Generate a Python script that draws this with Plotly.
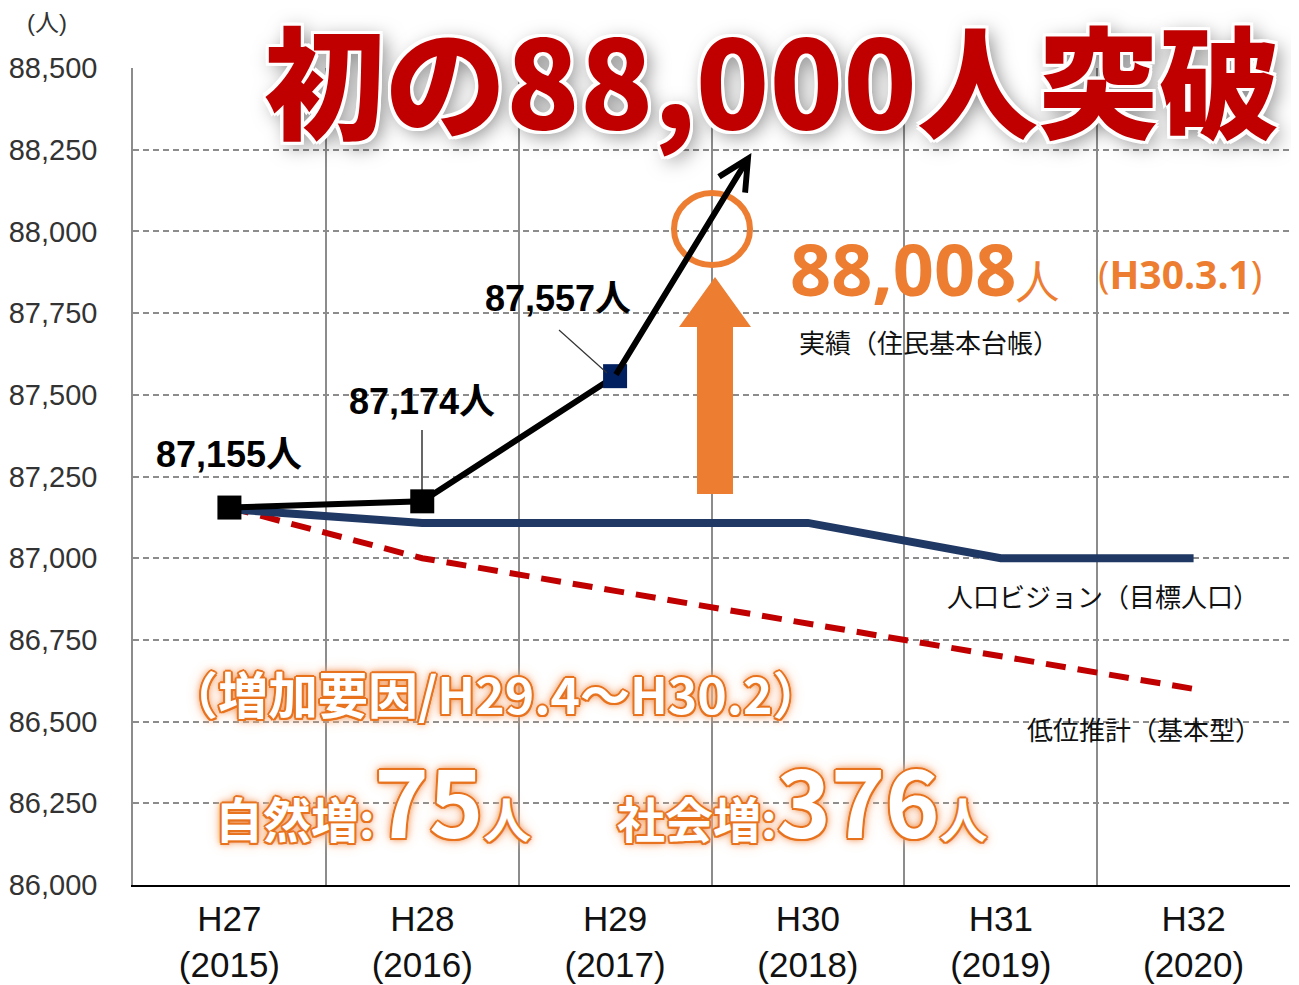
import plotly.graph_objects as go

# ---------------- data ----------------
categories = ["H27", "H28", "H29", "H30", "H31", "H32"]
years = ["(2015)", "(2016)", "(2017)", "(2018)", "(2019)", "(2020)"]
actual = [87155, 87174, 87557]                      # 実績（住民基本台帳）
vision = [87150, 87108, 87108, 87108, 87000, 87000]  # 人口ビジョン（目標人口）
low_est = [87155, 87000, 86900, 86800, 86700, 86600] # 低位推計（基本型）
actual_labels = ["87,155人", "87,174人", "87,557人"]
latest_value = 88008
y_ticks = [86000, 86250, 86500, 86750, 87000, 87250, 87500, 87750, 88000, 88250, 88500]

# ---------------- layout helpers ----------------
PAGE_W, PAGE_H = 1299, 985
OFF = 8                      # default page body margin
W, H = PAGE_W - OFF, PAGE_H - OFF
L, R, T, B = 133, 1290, 68, 885   # plot area in page pixels
def px(x):  # page pixel -> paper x
    return (x - L) / (R - L)
def py(y):  # page pixel -> paper y
    return (B - y) / (B - T)

SANS = "Liberation Sans, Arial, Noto Sans CJK JP, sans-serif"
CJK = "Noto Sans CJK JP, sans-serif"
ORANGE = "#ED7D31"

x_idx = list(range(len(categories)))

fig = go.Figure()

fig.add_trace(go.Scatter(
    x=x_idx, y=low_est, mode="lines",
    line=dict(color="#C00000", width=6, dash="20px,12px"),
    showlegend=False, hoverinfo="skip"))
fig.add_trace(go.Scatter(
    x=x_idx, y=vision, mode="lines",
    line=dict(color="#203864", width=8),
    showlegend=False, hoverinfo="skip"))
fig.add_trace(go.Scatter(
    x=x_idx[:len(actual)], y=actual, mode="lines+markers",
    line=dict(color="#000000", width=6),
    marker=dict(symbol="square", size=24, color=["#000000", "#000000", "#002060"],
                line=dict(width=0)),
    showlegend=False, hoverinfo="skip"))

def txt(x, y, text, font, xanchor="center", **kw):
    d = dict(x=x, y=y, xref="paper", yref="paper", text=text, showarrow=False,
             xanchor=xanchor, yanchor="middle", font=font)
    d.update(kw)
    return d

ann = []
# data labels
offsets = [(0, 53), (0, 100), (-57, 78)]
for i, (lab, (dx, dy)) in enumerate(zip(actual_labels, offsets)):
    ann.append(dict(x=x_idx[i], y=actual[i], xref="x", yref="y", text=lab,
                    showarrow=False, xshift=dx, yshift=dy, xanchor="center", yanchor="middle",
                    font=dict(family=SANS, size=36, color="#000", weight="bold")))

# trend arrow from H29 towards the latest value
ann.append(dict(x=2.707, y=88240, xref="x", yref="y",
                ax=x_idx[2], ay=actual[2], axref="x", ayref="y",
                showarrow=True, arrowhead=5, arrowsize=1.0, arrowwidth=6,
                arrowcolor="#000", text="", standoff=0, startstandoff=0))

# big title
ann.append(txt(px(772), py(76), "初の88,000人突破",
               dict(family=CJK, size=121, color="#C00000", weight=900,
                    shadow="-3px -3px 0 #fff, 3px -3px 0 #fff, -3px 3px 0 #fff, 3px 3px 0 #fff, 0 -3px 0 #fff, 0 3px 0 #fff, -3px 0 0 #fff, 3px 0 0 #fff, 5px 5px 20px rgba(0,0,0,0.5)")))

# latest value text
ann.append(txt(px(788), py(268),
               f"<b>{latest_value:,}</b><span style='font-size:44px'>人</span>",
               dict(family="Open Sans, sans-serif", size=72, color=ORANGE), xanchor="left"))
ann.append(txt(px(1096), py(273), "(<b>H30.3.1</b>)",
               dict(family="Open Sans, sans-serif", size=39, color=ORANGE), xanchor="left"))
ann.append(txt(px(797), py(342), "実績（住民基本台帳）",
               dict(family=CJK, size=26, color="#111"), xanchor="left"))
ann.append(txt(px(945), py(595), "人口ビジョン（目標人口）",
               dict(family=CJK, size=26, color="#111"), xanchor="left"))
ann.append(txt(px(1025), py(728), "低位推計（基本型）",
               dict(family=CJK, size=26, color="#111"), xanchor="left"))

glow = ("-1.5px -1.5px 0 #E8731F, 1.5px -1.5px 0 #E8731F, -1.5px 1.5px 0 #E8731F, 1.5px 1.5px 0 #E8731F, "
        "0 -2px 0 #E8731F, 0 2px 0 #E8731F, -2px 0 0 #E8731F, 2px 0 0 #E8731F, "
        "0 0 6px #ED7D31, 0 0 10px #F4B183, 0 0 16px #F8CBAD")
ann.append(txt(px(166), py(692), "（増加要因/H29.4～H30.2）",
               dict(family=CJK, size=50, color="#fff", weight="bold", shadow=glow), xanchor="left"))
ann.append(txt(px(213), py(797), "自然増:<span style='font-size:92px'>75</span>人",
               dict(family=CJK, size=48, color="#fff", weight="bold", shadow=glow), xanchor="left"))
ann.append(txt(px(615), py(797), "社会増:<span style='font-size:92px'>376</span>人",
               dict(family=CJK, size=48, color="#fff", weight="bold", shadow=glow), xanchor="left"))

# unit label
ann.append(txt(px(47), py(22), "(人)", dict(family=SANS, size=24, color="#333")))

shapes = [
    # leader lines
    dict(type="line", xref="paper", yref="paper", x0=px(422), y0=py(430), x1=px(422), y1=py(490),
         line=dict(color="#000", width=1.2)),
    dict(type="line", xref="paper", yref="paper", x0=px(559), y0=py(330), x1=px(607), y1=py(373),
         line=dict(color="#333", width=1.2)),
    # orange circle
    dict(type="circle", xref="paper", yref="paper", x0=px(674), x1=px(750), y0=py(193), y1=py(265),
         line=dict(color=ORANGE, width=6)),
    # orange up arrow
    dict(type="path", xref="paper", yref="paper",
         path=(f"M {px(697)} {py(494)} L {px(733)} {py(494)} L {px(733)} {py(327)} "
               f"L {px(751)} {py(327)} L {px(715)} {py(277)} L {px(679)} {py(327)} "
               f"L {px(697)} {py(327)} Z"),
         fillcolor=ORANGE, line=dict(width=0)),
]

fig.update_layout(
    width=W, height=H,
    margin=dict(l=L - OFF, r=PAGE_W - R, t=T - OFF, b=PAGE_H - B),
    paper_bgcolor="white", plot_bgcolor="white",
    annotations=ann, shapes=shapes,
    showlegend=False,
    xaxis=dict(
        range=[-0.5, 5.5], tickmode="array", tickvals=x_idx,
        ticktext=[f"{c}<br>{y}" for c, y in zip(categories, years)],
        showgrid=False, zeroline=False, automargin=False,
        showline=True, linecolor="#000", linewidth=2,
        ticks="", tickfont=dict(family=SANS, size=35, color="#111"),
        ticklabelstandoff=2,
        minor=dict(tick0=0.5, dtick=1, showgrid=True, gridcolor="#8c8c8c", gridwidth=1.5),
    ),
    yaxis=dict(
        range=[86000, 88500], tickmode="array", tickvals=y_ticks,
        ticktext=[f"{v:,}" for v in y_ticks],
        showgrid=True, gridcolor="#8c8c8c", gridwidth=1.5, griddash="6px,4px",
        zeroline=False, showline=True, linecolor="#8c8c8c", linewidth=1.5,
        automargin=False,
        ticks="", tickfont=dict(family=SANS, size=29, color="#333"),
        ticklabelstandoff=28,
    ),
)

fig.write_html("out.html")
